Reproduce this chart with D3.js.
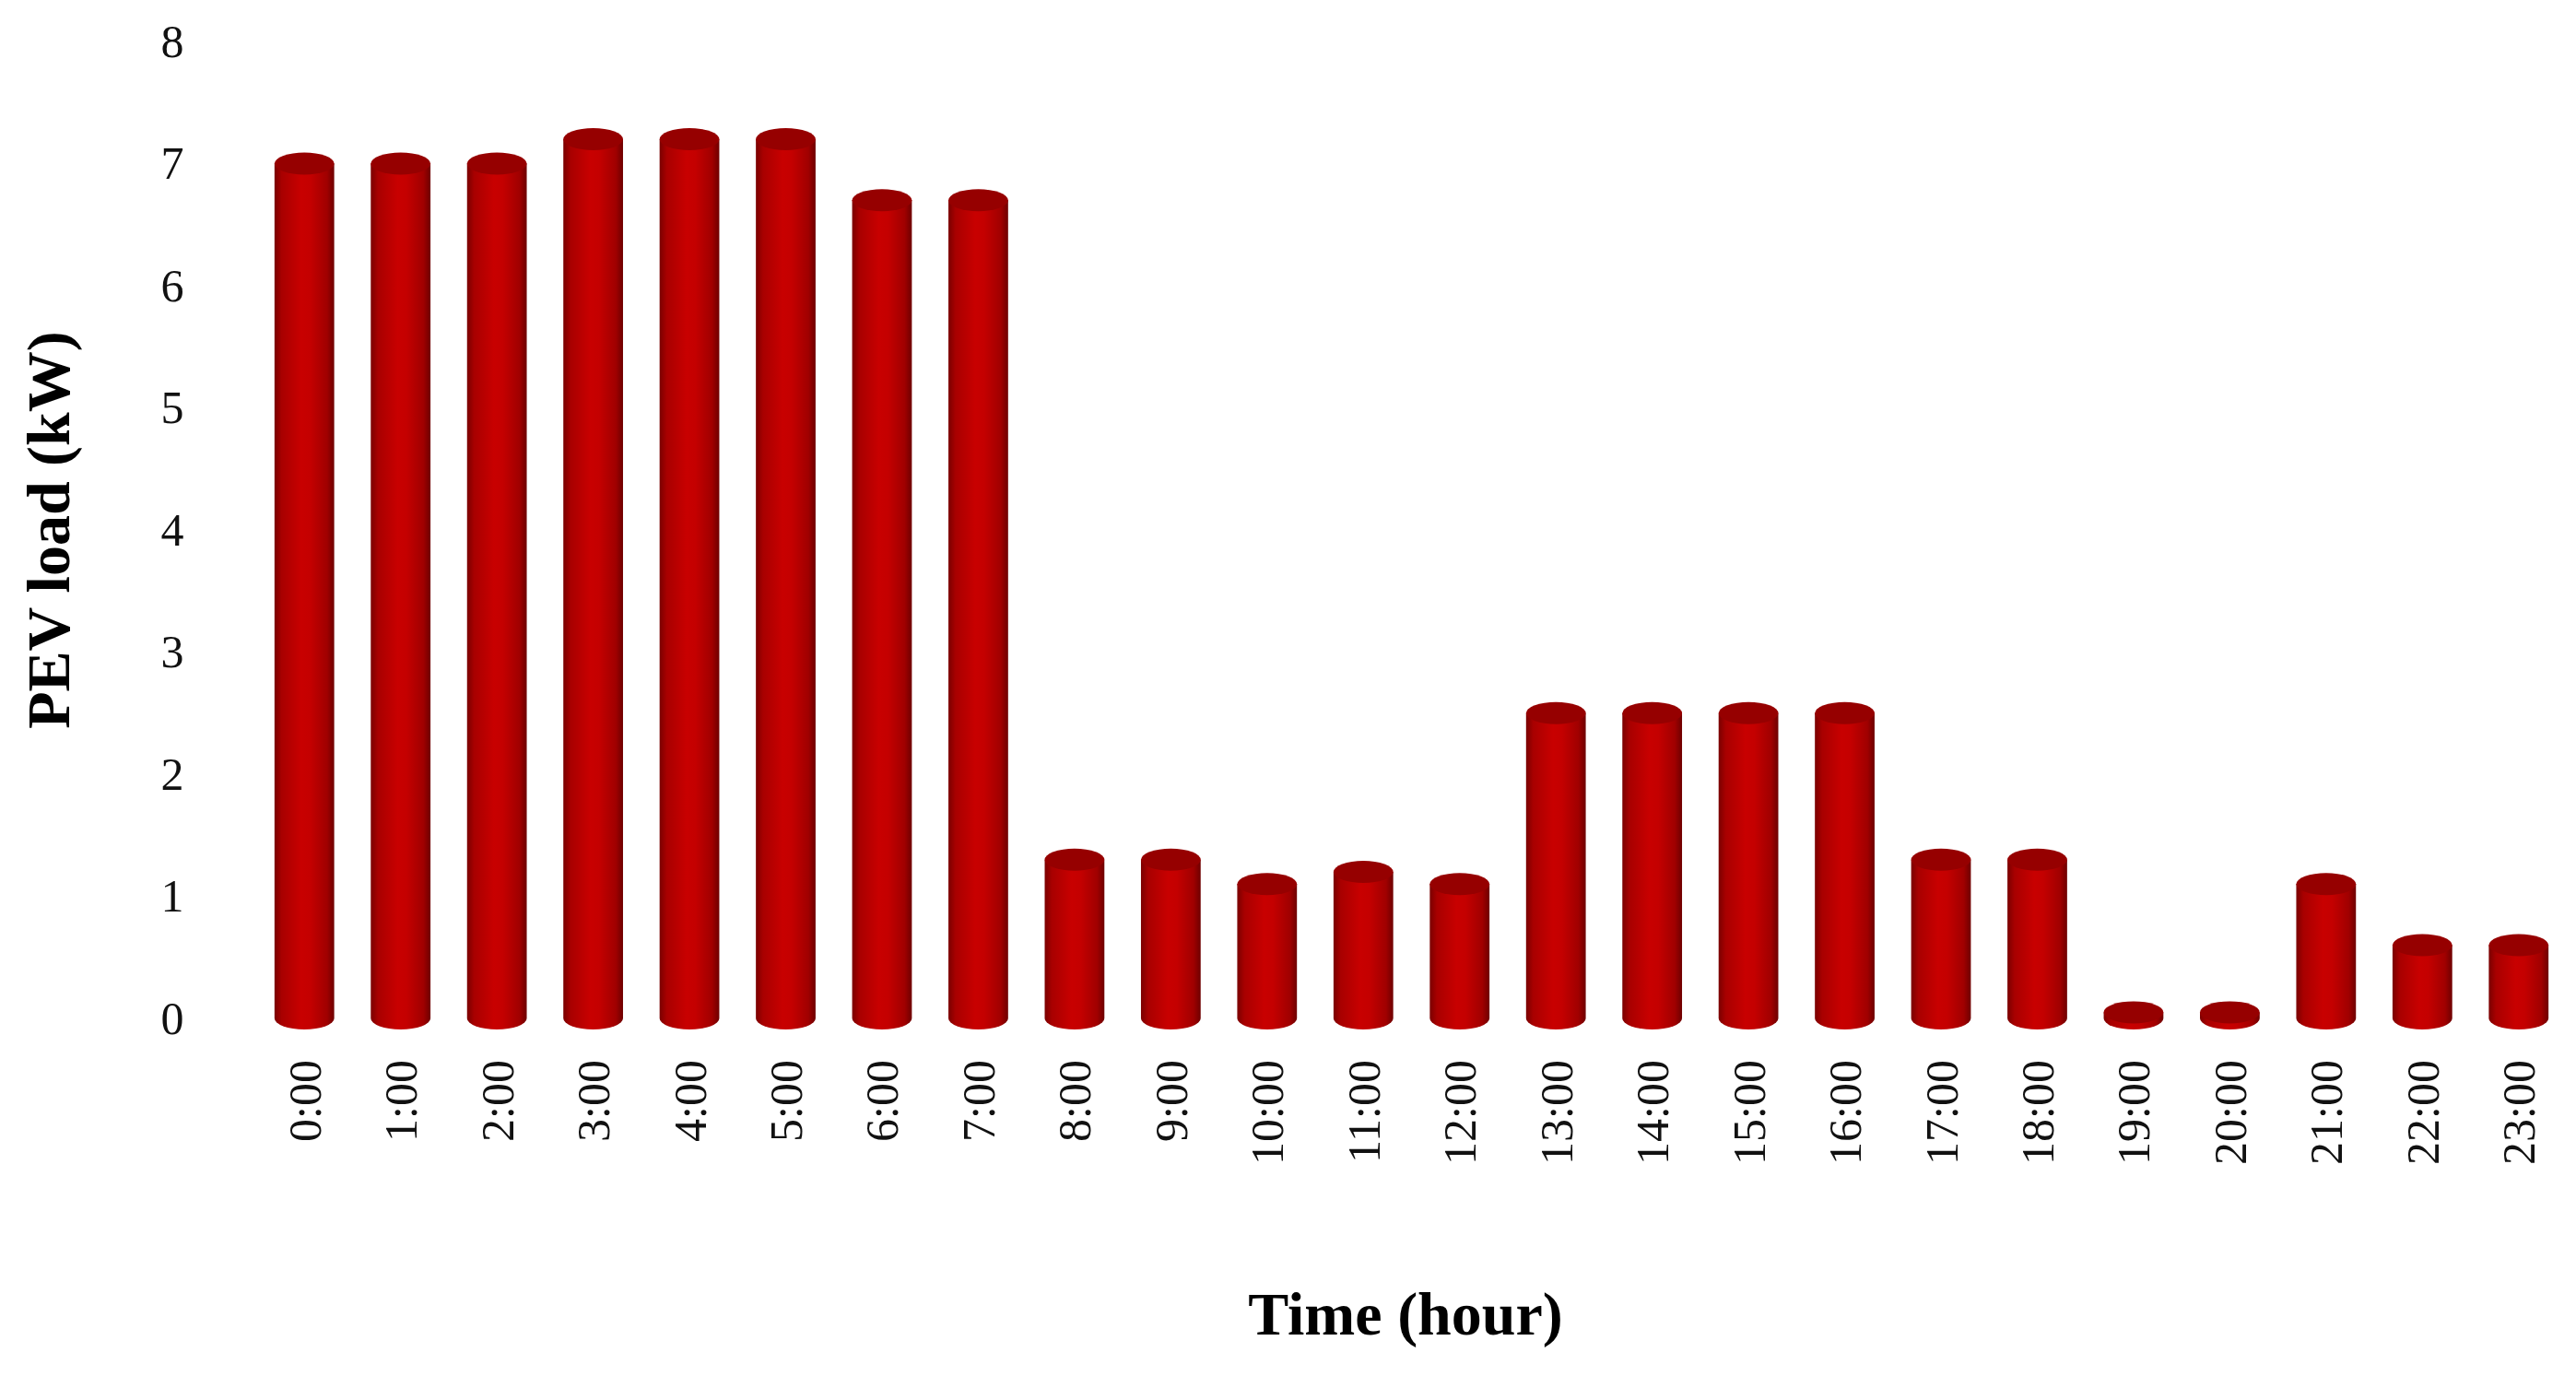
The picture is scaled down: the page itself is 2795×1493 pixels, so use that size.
<!DOCTYPE html><html><head><meta charset="utf-8"><script src="https://cdn.jsdelivr.net/npm/d3@7"></script>
<style>body{margin:0;background:#fff}</style></head><body><svg id="c" width="2795" height="1493"></svg>
<script>
const categories=["0:00","1:00","2:00","3:00","4:00","5:00","6:00","7:00","8:00","9:00","10:00","11:00","12:00","13:00","14:00","15:00","16:00","17:00","18:00","19:00","20:00","21:00","22:00","23:00"];
const values=[7,7,7,7.2,7.2,7.2,6.7,6.7,1.3,1.3,1.1,1.2,1.1,2.5,2.5,2.5,2.5,1.3,1.3,0.05,0.05,1.1,0.6,0.6];
const yTicks=[0,1,2,3,4,5,6,7,8];
const svg=d3.select("#c");
const x=d3.scaleBand().domain(categories).range([278,2785]).paddingInner(0.38).paddingOuter(0.19);
const y=d3.scaleLinear().domain([0,8]).range([1105,45]);
const defs=svg.append("defs");
const g=defs.append("linearGradient").attr("id","cyl");
[[0,"#7a0000"],[0.12,"#a80000"],[0.45,"#c80000"],[0.6,"#c40000"],[0.88,"#a00000"],[1,"#6e0000"]].forEach(([o,c])=>g.append("stop").attr("offset",o).attr("stop-color",c));
const font="'Liberation Serif','Times New Roman',serif";
const ry=12;
const bars=svg.append("g");
categories.forEach((c,i)=>{
  const x0=x(c),w=x.bandwidth(),cx=x0+w/2,yt=y(values[i]),yb=y(0);
  const gg=bars.append("g");
  gg.append("path").attr("d",`M${x0},${yt} L${x0},${yb} A${w/2},${ry} 0 0 0 ${x0+w},${yb} L${x0+w},${yt} Z`).attr("fill","url(#cyl)");
  gg.append("ellipse").attr("cx",cx).attr("cy",yt).attr("rx",w/2).attr("ry",ry).attr("fill","#960000");
});
const ya=svg.append("g").attr("transform","translate(220,0)").call(d3.axisLeft(y).tickValues(yTicks).tickSize(0).tickPadding(0));
ya.select(".domain").remove();
ya.selectAll("text").attr("font-family",font).attr("font-size",50).attr("fill","#111").attr("text-anchor","middle").attr("x",-33);
const xa=svg.append("g").attr("transform","translate(0,1130)").call(d3.axisBottom(x).tickSize(0).tickPadding(0));
xa.select(".domain").remove();
xa.selectAll("text").attr("font-family",font).attr("font-size",50).attr("fill","#111").attr("transform","rotate(-90)").attr("text-anchor","end").attr("x",-20).attr("y",0).attr("dy","0.35em");
svg.append("text").attr("transform","translate(75,575) rotate(-90)").attr("text-anchor","middle").attr("font-family",font).attr("font-weight","bold").attr("font-size",66).text("PEV load (kW)");
svg.append("text").attr("x",1525).attr("y",1448).attr("text-anchor","middle").attr("font-family",font).attr("font-weight","bold").attr("font-size",66).text("Time  (hour)");
</script></body></html>
